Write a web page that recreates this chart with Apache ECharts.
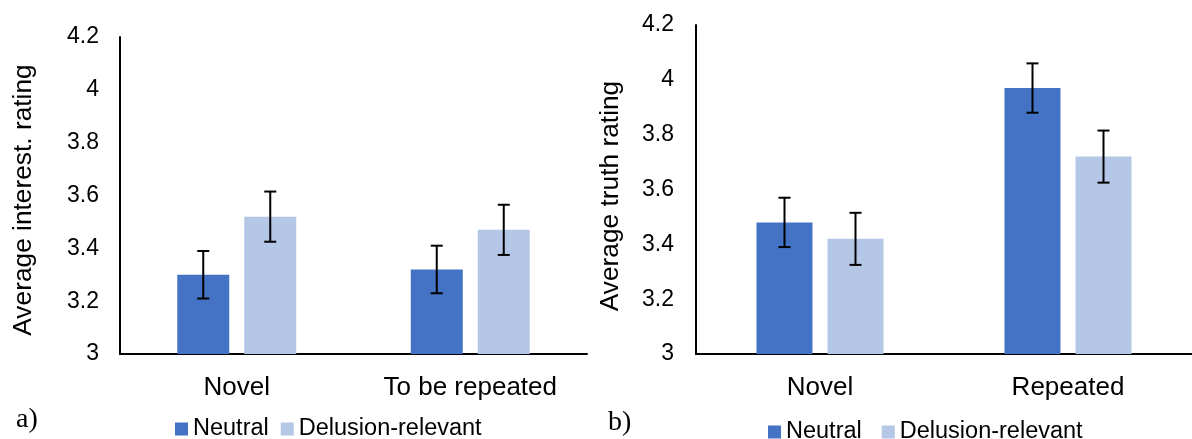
<!DOCTYPE html>
<html>
<head>
<meta charset="utf-8">
<script src="https://cdn.jsdelivr.net/npm/echarts@6/dist/echarts.min.js"></script>
<style>
  html, body { margin: 0; padding: 0; background: #fff; }
  #chart { width: 1192px; height: 439px; }
</style>
</head>
<body>
<div id="chart"></div>
<script>
// Panel a: interest ratings
const interestCategories = ['Novel', 'To be repeated'];
const interestNeutral = [3.30, 3.32];
const interestNeutralErr = [0.09, 0.09];
const interestDelusion = [3.52, 3.47];
const interestDelusionErr = [0.095, 0.095];

// Panel b: truth ratings
const truthCategories = ['Novel', 'Repeated'];
const truthNeutral = [3.48, 3.97];
const truthNeutralErr = [0.09, 0.09];
const truthDelusion = [3.42, 3.72];
const truthDelusionErr = [0.095, 0.095];

const seriesNames = ['Neutral', 'Delusion-relevant'];
const yTicks = { min: 3, max: 4.2, interval: 0.2 };

const FONT = '"Liberation Sans", Arial, sans-serif';
const SERIF = '"Liberation Serif", "Times New Roman", serif';
const C_NEUTRAL = '#4472C4';
const C_DELUSION = '#B4C7E7';

// bar geometry per panel (pixels)
const barA = { width: 52, gap: 15 };
const barB = { width: 56, gap: 15 };

function errorSeries(gridIdx, values, errs, offset) {
  return {
    type: 'custom',
    xAxisIndex: gridIdx,
    yAxisIndex: gridIdx,
    silent: true,
    z: 10,
    data: values.map((v, i) => [i, v - errs[i], v + errs[i]]),
    renderItem: function (params, api) {
      const lo = api.coord([api.value(0), api.value(1)]);
      const hi = api.coord([api.value(0), api.value(2)]);
      const x = lo[0] + offset;
      const cap = 6;
      const style = { stroke: '#000', lineWidth: 2 };
      return {
        type: 'group',
        children: [
          { type: 'line', shape: { x1: x, y1: lo[1], x2: x, y2: hi[1] }, style: style },
          { type: 'line', shape: { x1: x - cap, y1: hi[1], x2: x + cap, y2: hi[1] }, style: style },
          { type: 'line', shape: { x1: x - cap, y1: lo[1], x2: x + cap, y2: lo[1] }, style: style }
        ]
      };
    }
  };
}

function xAxisFor(gridIdx, cats) {
  return {
    type: 'category',
    gridIndex: gridIdx,
    data: cats,
    axisLine: { lineStyle: { color: '#000', width: 2 } },
    axisTick: { show: false },
    axisLabel: { color: '#000', fontFamily: FONT, fontSize: 26, margin: 21 }
  };
}

function yAxisFor(gridIdx, margin) {
  return {
    type: 'value',
    gridIndex: gridIdx,
    min: yTicks.min,
    max: yTicks.max,
    interval: yTicks.interval,
    axisLine: { show: true, lineStyle: { color: '#000', width: 2 } },
    axisTick: { show: false },
    splitLine: { show: false },
    axisLabel: {
      color: '#000', fontFamily: FONT, fontSize: 23, margin: margin,
      formatter: v => String(Math.round(v * 10) / 10)
    }
  };
}

function barSeries(gridIdx, name, values, color, geom) {
  return {
    type: 'bar',
    name: name,
    xAxisIndex: gridIdx,
    yAxisIndex: gridIdx,
    data: values,
    barWidth: geom.width,
    barGap: (geom.gap / geom.width * 100).toFixed(1) + '%',
    itemStyle: { color: color },
    z: 2
  };
}

const offA = (barA.width + barA.gap) / 2;
const offB = (barB.width + barB.gap) / 2;

const legendText = { color: '#000', fontFamily: FONT, fontSize: 23.5 };

const option = {
  animation: false,
  backgroundColor: '#fff',
  grid: [
    { left: 120, top: 37, width: 467, height: 317 },
    { left: 696, top: 25, width: 501, height: 329 }
  ],
  xAxis: [xAxisFor(0, interestCategories), xAxisFor(1, truthCategories)],
  yAxis: [yAxisFor(0, 21), yAxisFor(1, 22)],
  legend: [
    {
      left: 170, top: 412, icon: 'rect', itemWidth: 13, itemHeight: 13,
      itemGap: 12, textStyle: legendText, selectedMode: false, data: seriesNames
    },
    {
      left: 763, top: 415, icon: 'rect', itemWidth: 13, itemHeight: 13,
      itemGap: 20, textStyle: legendText, selectedMode: false, data: seriesNames
    }
  ],
  graphic: [
    {
      type: 'text', x: 24, y: 200, rotation: Math.PI / 2,
      style: { text: 'Average interest. rating', fontFamily: FONT, fontSize: 26.3,
               fill: '#000', textAlign: 'center', textVerticalAlign: 'middle' }
    },
    {
      type: 'text', x: 611, y: 196, rotation: Math.PI / 2,
      style: { text: 'Average truth rating', fontFamily: FONT, fontSize: 26.3,
               fill: '#000', textAlign: 'center', textVerticalAlign: 'middle' }
    },
    {
      type: 'text', x: 16, y: 420,
      style: { text: 'a)', fontFamily: SERIF, fontSize: 28, fill: '#000',
               textAlign: 'left', textVerticalAlign: 'middle' }
    },
    {
      type: 'text', x: 608, y: 423,
      style: { text: 'b)', fontFamily: SERIF, fontSize: 28, fill: '#000',
               textAlign: 'left', textVerticalAlign: 'middle' }
    }
  ],
  series: [
    barSeries(0, seriesNames[0], interestNeutral, C_NEUTRAL, barA),
    barSeries(0, seriesNames[1], interestDelusion, C_DELUSION, barA),
    barSeries(1, seriesNames[0], truthNeutral, C_NEUTRAL, barB),
    barSeries(1, seriesNames[1], truthDelusion, C_DELUSION, barB),
    errorSeries(0, interestNeutral, interestNeutralErr, -offA),
    errorSeries(0, interestDelusion, interestDelusionErr, offA),
    errorSeries(1, truthNeutral, truthNeutralErr, -offB),
    errorSeries(1, truthDelusion, truthDelusionErr, offB)
  ]
};

const chart = echarts.init(document.getElementById('chart'), null, { renderer: 'canvas' });
chart.setOption(option);
</script>
</body>
</html>
